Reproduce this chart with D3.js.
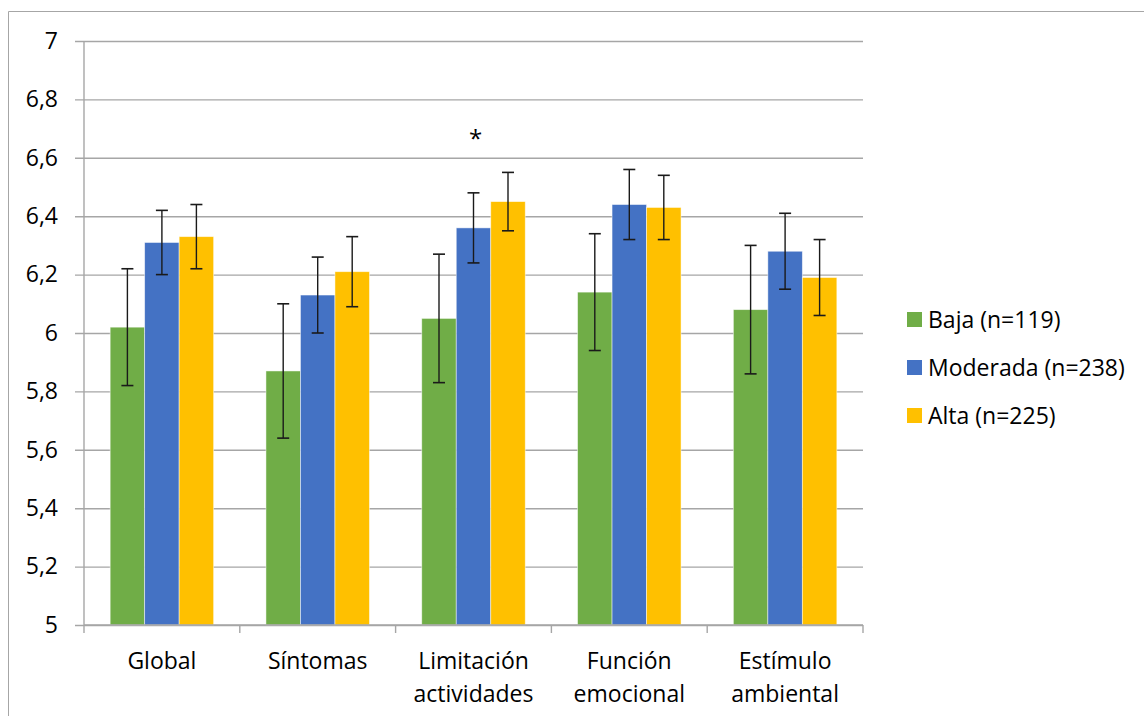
<!DOCTYPE html>
<html>
<head>
<meta charset="utf-8">
<script src="https://cdn.jsdelivr.net/npm/d3@7"></script>
<style>
  body { margin: 0; background: #fff; }
  svg { display: block; font-family: "Open Sans", "Noto Sans", sans-serif; }
</style>
</head>
<body>
<div id="chart"></div>
<script>
// data
var categories = ["Global", "Síntomas", "Limitación\nactividades", "Función\nemocional", "Estímulo\nambiental"];
var seriesNames = ["Baja (n=119)", "Moderada (n=238)", "Alta (n=225)"];
var baja = [6.02, 5.87, 6.05, 6.14, 6.08];
var bajaErr = [0.20, 0.23, 0.22, 0.20, 0.22];
var moderada = [6.31, 6.13, 6.36, 6.44, 6.28];
var moderadaErr = [0.11, 0.13, 0.12, 0.12, 0.13];
var alta = [6.33, 6.21, 6.45, 6.43, 6.19];
var altaErr = [0.11, 0.12, 0.10, 0.11, 0.13];
var yTicks = [5, 5.2, 5.4, 5.6, 5.8, 6, 6.2, 6.4, 6.6, 6.8, 7];
var colors = ["#70AD47", "#4472C4", "#FFC000"];
// significance mark: category index, series index, value position
var starCat = 2, starSeries = 1, starValue = 6.67;

var values = [baja, moderada, alta];
var errors = [bajaErr, moderadaErr, altaErr];

var W = 1144, H = 716;
var margin = {top: 41, left: 84},
    width = 863 - 84,
    height = 625 - 41;
var fs = 23;

var svg = d3.select("#chart").append("svg")
  .attr("width", W)
  .attr("height", H);

// outer frame (clipped at right and bottom)
svg.append("path")
  .attr("d", "M8.5," + H + "V11.5H" + W)
  .attr("fill", "none")
  .attr("stroke", "#a6a6a6")
  .attr("stroke-width", 1);

var g = svg.append("g")
  .attr("transform", "translate(" + margin.left + "," + margin.top + ")");

var x0 = d3.scaleBand()
  .domain(d3.range(categories.length))
  .range([0, width]);

var x1 = d3.scaleBand()
  .domain(d3.range(seriesNames.length))
  .range([0, x0.bandwidth()])
  .paddingOuter(0.758);

var y = d3.scaleLinear()
  .domain([5, 7])
  .range([height, 0]);

// gridlines + left ticks
var yAxis = g.append("g")
  .call(d3.axisLeft(y).tickValues(yTicks).tickSize(-width).tickPadding(26)
    .tickFormat(function(d) { return String(d).replace(".", ","); }));
yAxis.select(".domain").remove();
yAxis.selectAll(".tick line")
  .attr("x1", -9)
  .attr("stroke", "#a6a6a6")
  .attr("stroke-width", 1.4);
yAxis.selectAll(".tick text")
  .attr("font-size", fs)
  .attr("fill", "#000")
  .attr("font-family", "Open Sans, sans-serif");

// left vertical axis line
g.append("line")
  .attr("x1", 0).attr("x2", 0)
  .attr("y1", 0).attr("y2", height)
  .attr("stroke", "#a6a6a6")
  .attr("stroke-width", 1.4);

// bars
var groups = g.selectAll(".cat")
  .data(categories)
  .enter().append("g")
  .attr("transform", function(d, i) { return "translate(" + x0(i) + ",0)"; });

groups.each(function(c, ci) {
  var gg = d3.select(this);
  seriesNames.forEach(function(s, si) {
    var v = values[si][ci], e = errors[si][ci];
    var bx = x1(si), bw = x1.bandwidth();
    gg.append("rect")
      .attr("x", bx)
      .attr("y", y(v))
      .attr("width", bw)
      .attr("height", y(5) - y(v))
      .attr("fill", colors[si])
      .attr("stroke", "#ffffff")
      .attr("stroke-opacity", 0.6)
      .attr("stroke-width", 0.8);
    var cx = bx + bw / 2;
    gg.append("line")
      .attr("x1", cx).attr("x2", cx)
      .attr("y1", y(v + e)).attr("y2", y(v - e))
      .attr("stroke", "#1a1a1a").attr("stroke-width", 1.4);
    [v + e, v - e].forEach(function(t) {
      gg.append("line")
        .attr("x1", cx - 6).attr("x2", cx + 6)
        .attr("y1", y(t)).attr("y2", y(t))
        .attr("stroke", "#1a1a1a").attr("stroke-width", 1.6);
    });
  });
});

// x axis line and category ticks
g.append("line")
  .attr("x1", 0).attr("x2", width)
  .attr("y1", height).attr("y2", height)
  .attr("stroke", "#a6a6a6").attr("stroke-width", 1.4);
d3.range(categories.length + 1).forEach(function(i) {
  var xx = i < categories.length ? x0(i) : width;
  g.append("line")
    .attr("x1", xx).attr("x2", xx)
    .attr("y1", height).attr("y2", height + 8)
    .attr("stroke", "#a6a6a6").attr("stroke-width", 1.4);
});

// category labels
categories.forEach(function(c, i) {
  var lines = c.split("\n");
  var t = g.append("text")
    .attr("x", x0(i) + x0.bandwidth() / 2)
    .attr("y", height + 44)
    .attr("text-anchor", "middle")
    .attr("font-size", fs)
    .attr("fill", "#000");
  lines.forEach(function(l, li) {
    t.append("tspan")
      .attr("x", x0(i) + x0.bandwidth() / 2)
      .attr("dy", li === 0 ? 0 : 33)
      .text(l);
  });
});

// significance star
g.append("text")
  .attr("x", x0(starCat) + x1(starSeries) + x1.bandwidth() / 2 + 2)
  .attr("y", y(starValue) + 10)
  .attr("text-anchor", "middle")
  .attr("font-size", 24)
  .attr("fill", "#000")
  .text("*");

// legend
var legend = svg.append("g");
seriesNames.forEach(function(s, i) {
  var ly = 320 + i * 48;
  legend.append("rect")
    .attr("x", 907).attr("y", ly - 8)
    .attr("width", 15).attr("height", 15)
    .attr("fill", colors[i]);
  legend.append("text")
    .attr("x", 928).attr("y", ly + 8)
    .attr("font-size", fs)
    .attr("fill", "#000")
    .text(s);
});
</script>
</body>
</html>
